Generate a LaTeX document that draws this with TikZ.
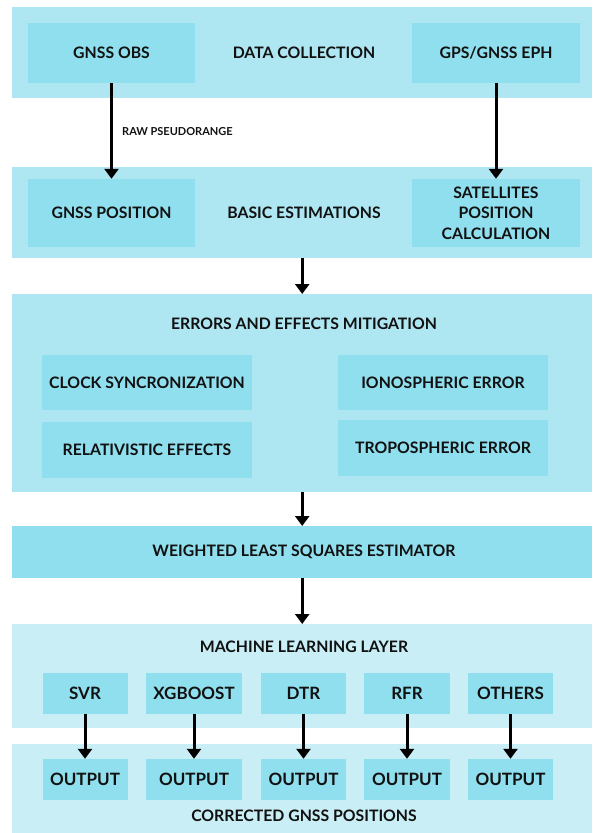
\documentclass[tikz,border=0pt]{standalone}
\usepackage{fontspec}
\setmainfont{Lato}
\usetikzlibrary{arrows.meta}
\definecolor{panelc}{HTML}{AEE6F2}
\definecolor{boxc}{HTML}{90DFEE}
\definecolor{mlc}{HTML}{C9EEF6}
\definecolor{txtc}{HTML}{111111}
\tikzset{
  x=1pt,y=-1pt,
  panel/.style={fill=panelc,draw=none,inner sep=0pt,anchor=north west},
  box/.style={fill=boxc,draw=none,inner sep=0pt,font=\bfseries\fontsize{15.8}{20.5}\selectfont,text=txtc,align=center},
  lbl/.style={font=\bfseries\fontsize{15.8}{20.5}\selectfont,text=txtc,align=center},
  mlbox/.style={box,font=\bfseries\fontsize{17}{20}\selectfont,minimum height=41pt},
  arr/.style={line width=3pt,-{Triangle[width=14pt,length=10pt]},black},
}
\begin{document}
\begin{tikzpicture}
\useasboundingbox (0,0) rectangle (592,833);
% panels
\node[panel,minimum width=580pt,minimum height=91pt] (p1) at (12,7) {};
\node[panel,minimum width=580pt,minimum height=91pt] (p2) at (12,167) {};
\node[panel,minimum width=580pt,minimum height=198pt] (p3) at (12,294) {};
\node[panel,fill=boxc,minimum width=580pt,minimum height=52pt] (wls) at (12,526) {};
\node[panel,fill=mlc,minimum width=580pt,minimum height=104pt] (p5) at (12,624) {};
\node[panel,fill=mlc,minimum width=580pt,minimum height=90pt] (p6) at (12,744) {};
% panel 1
\node[box,minimum width=167pt,minimum height=60pt] (obs) at (111.5,53) {GNSS OBS};
\node[lbl] (dc) at (304,53) {DATA COLLECTION};
\node[box,minimum width=168pt,minimum height=60pt] (eph) at (496,53) {GPS/GNSS EPH};
% panel 2
\node[box,minimum width=167pt,minimum height=68pt] (pos) at (111.5,213) {GNSS POSITION};
\node[lbl] (be) at (304,213) {BASIC ESTIMATIONS};
\node[box,minimum width=168pt,minimum height=68pt] (sat) at (496,213) {SATELLITES\\POSITION\\CALCULATION};
% arrows 1->2
\draw[arr] (obs.south) -- (pos.north);
\draw[arr] (eph.south) -- (sat.north);
\node[font=\bfseries\fontsize{11}{13}\selectfont,text=txtc,anchor=west,inner sep=0pt] (raw) at (122,132) {RAW PSEUDORANGE};
% panel 3
\node[lbl] (em) at (304,324) {ERRORS AND EFFECTS MITIGATION};
\node[box,minimum width=210pt,minimum height=55pt] (clk) at (147,382.5) {CLOCK SYNCRONIZATION};
\node[box,minimum width=210pt,minimum height=55pt] (ion) at (443,382.5) {IONOSPHERIC ERROR};
\node[box,minimum width=210pt,minimum height=56pt] (rel) at (147,450) {RELATIVISTIC EFFECTS};
\node[box,minimum width=210pt,minimum height=56pt] (tro) at (443,448) {TROPOSPHERIC ERROR};
% wls text
\node[lbl] (wlst) at (304,552) {WEIGHTED LEAST SQUARES ESTIMATOR};
% ML
\node[lbl] (mlt) at (304,647) {MACHINE LEARNING LAYER};
\foreach \n/\cx/\w/\t in {svr/85/85/SVR, xgb/194/96/XGBOOST, dtr/303.5/85/DTR, rfr/407/86/RFR, oth/510.5/85/OTHERS}{
  \node[mlbox,minimum width=\w pt] (\n) at (\cx,693.5) {\t};
  \node[mlbox,minimum width=\w pt] (o\n) at (\cx,779.5) {OUTPUT};
  \draw[arr] (\n.south) -- (o\n.north);
}
\node[lbl] (cgp) at (304,816) {CORRECTED GNSS POSITIONS};
% main arrows
\draw[arr] (p2.south) -- (p3.north);
\draw[arr] (p3.south) -- (wls.north);
\draw[arr] (wls.south) -- (p5.north);
\end{tikzpicture}
\end{document}
